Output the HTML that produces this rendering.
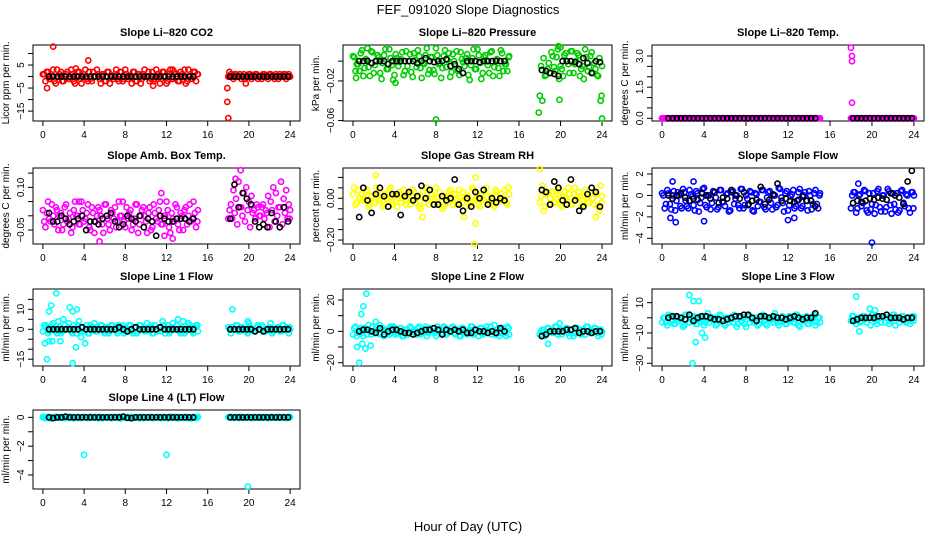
<!DOCTYPE html>
<html><head><meta charset="utf-8"><title>FEF_091020 Slope Diagnostics</title>
<style>
html,body{margin:0;padding:0;background:#fff;}
svg{display:block;font-family:"Liberation Sans",Arial,sans-serif;}
</style></head>
<body>
<svg id="chart" width="936" height="540" viewBox="0 0 936 540" xmlns="http://www.w3.org/2000/svg">
<rect x="0" y="0" width="936" height="540" fill="#fff"/>
<text x="468" y="14" text-anchor="middle" font-size="13">FEF_091020  Slope Diagnostics</text>
<text x="468" y="531" text-anchor="middle" font-size="13">Hour of Day (UTC)</text>
</svg>
<script>
// shared sample times (hours)
const tC1=[0,0.25,0.5,0.75,1,1.25,1.5,1.75,2,2.25,2.5,2.75,3,3.25,3.5,3.75,4,4.25,4.5,4.75,5,5.25,5.5,5.75,6,6.25,6.5,6.75,7,7.25,7.5,7.75,8,8.25,8.5,8.75,9,9.25,9.5,9.75,10,10.25,10.5,10.75,11,11.25,11.5,11.75,12,12.25,12.5,12.75,13,13.25,13.5,13.75,14,14.25,14.5,14.75,15];
const tC2=[18,18.25,18.5,18.75,19,19.25,19.5,19.75,20,20.25,20.5,20.75,21,21.25,21.5,21.75,22,22.25,22.5,22.75,23,23.25,23.5,23.75,24];
const tD1=[0.12,0.37,0.62,0.87,1.12,1.37,1.62,1.87,2.12,2.37,2.62,2.87,3.12,3.37,3.62,3.87,4.12,4.37,4.62,4.87,5.12,5.37,5.62,5.87,6.12,6.37,6.62,6.87,7.12,7.37,7.62,7.87,8.12,8.37,8.62,8.87,9.12,9.37,9.62,9.87,10.12,10.37,10.62,10.87,11.12,11.37,11.62,11.87,12.12,12.37,12.62,12.87,13.12,13.37,13.62,13.87,14.12,14.37,14.62,14.87,15.05];
const tD2=[18.12,18.37,18.62,18.87,19.12,19.37,19.62,19.87,20.12,20.37,20.62,20.87,21.12,21.37,21.62,21.87,22.12,22.37,22.62,22.87,23.12,23.37,23.62,23.87,23.95];
const tB1=[0.6,1,1.4,1.8,2.2,2.6,3,3.4,3.8,4.2,4.6,5,5.4,5.8,6.2,6.6,7,7.4,7.8,8.2,8.6,9,9.4,9.8,10.2,10.6,11,11.4,11.8,12.2,12.6,13,13.4,13.8,14.2,14.6];
const tB2=[18.2,18.6,19,19.4,19.8,20.2,20.6,21,21.4,21.8,22.2,22.6,23,23.4,23.8];
const xTicks=[0,4,8,12,16,20,24];
const xTickLabels=["0","4","8","12","16","20","24"];

// CO2
const co2V1=[1,-2,2,-1,3,-3,0,2,-2,1,-1,3,-2,0,2,-3,1,-1,2,-2,0,3,-1,1,-2,2,-3,0,1,-1,2,-2,3,-1,0,2,-2,1,-3,1,0,2,-1,-2,3,0,-1,2,-3,1,-1,2,0,-2,1,3,-2,0,-1,2,1];
const co2V2=[0,1,-1,1,0,-1,1,0,1,-1,0,1,0,-1,1,0,1,0,-1,0,1,0,1,0,0];
const co2B1=[0,0,0,0,0,0,0,0,0,0,0,0,0,0,0,0,0,0,0,0,0,0,0,0,0,0,0,0,0,0,0,0,0,0,0,0];
const co2B2=[0,0,0,0,0,0,0,0,0,0,0,0,0,0,0];
const co2OX=[1,4.4,0.4,17.9,18,17.9,18.1,19.7,3.2,10.7,12.6];
const co2OY=[13,7,-5,-11,-18,-5,2,-3,3.5,-4,3];
const co2Ticks=[-15,-10,-5,0,5,10];const co2LabV=[-15,-5,5];const co2Lab=["\u221215","\u22125","5"];

// Pressure
const prV1=[.005,-.01,-.003,.008,-.015,.002,-.006,.01,-.012,0,.004,-.018,.006,-.008,.012,-.004,-.014,.003,-.001,.009,-.01,-.005,.007,-.016,.001,.011,-.007,-.002,.006,-.013,.004,-.009,.013,-.003,-.017,.005,-.006,.008,-.011,0,.01,-.014,.002,-.005,.007,-.019,.003,-.008,.012,-.002,-.012,.006,-.004,.009,-.015,.001,-.007,.011,-.01,-.003,.004];
const prV2=[-.035,-.04,-.015,-.008,-.012,.005,-.01,.012,-.005,-.015,.008,-.003,.01,-.012,0,.006,-.008,-.018,.004,-.006,.009,-.002,-.014,.003,-.005];
const prB1=[0,0,0,-.002,0,0,0,-.003,0,0,0,0,0,0,-.002,0,.003,0,-.001,0,0,.002,-.005,-.003,-.008,-.012,0,0,0,-.001,0,0,0,0,0,0];
const prB2=[-.009,-.01,-.012,-.013,-.015,0,0,0,-.001,-.003,.003,-.002,-.012,0,-.001];
const prOX=[8,24,17.9,19.9,4.1,0.3,19.8,20,1.4];
const prOY=[-.059,-.058,-.052,-.039,-.022,-.017,.015,.014,.013];
const prTicks=[-.06,-.04,-.02,0];const prLabV=[-.06,-.02];const prLab=["\u22120.06","\u22120.02"];

// Li-820 Temp
const tpV1=[0,0,0,0,0,0,0,0,0,0,0,0,0,0,0,0,0,0,0,0,0,0,0,0,0,0,0,0,0,0,0,0,0,0,0,0,0,0,0,0,0,0,0,0,0,0,0,0,0,0,0,0,0,0,0,0,0,0,0,0,0];
const tpV2=[0,0,0,0,0,0,0,0,0,0,0,0,0,0,0,0,0,0,0,0,0,0,0,0,0];
const tpB1=[0,0,0,0,0,0,0,0,0,0,0,0,0,0,0,0,0,0,0,0,0,0,0,0,0,0,0,0,0,0,0,0,0,0,0,0];
const tpB2=[0,0,0,0,0,0,0,0,0,0,0,0,0,0,0];
const tpOX=[18,18.1,18.1,18.1];
const tpOY=[3.4,3.0,2.75,0.75];
const tpTicks=[0,.5,1,1.5,2,2.5,3];const tpLabV=[0,1.5,3];const tpLab=["0.0","1.5","3.0"];

// Amb Box Temp
const abV1=[.02,-.04,.05,-.02,0,.03,-.05,.01,-.03,.04,-.01,-.06,.02,0,-.03,.05,-.02,.01,-.04,.03,-.06,0,.02,-.03,.04,-.01,-.05,.01,.03,-.02,0,.05,-.04,-.01,.02,-.03,.04,-.06,0,.03,-.02,.01,-.05,.04,-.01,.02,-.03,0,.05,-.04,.01,-.02,.03,-.05,0,.02,-.03,.04,-.01,.01,-.02];
const abV2=[-.01,.04,.09,.06,.12,.03,.08,.1,.05,.07,.02,.04,0,.03,-.01,.01,-.04,.02,-.02,0,.03,-.03,.01,-.01,.02];
const abB1=[.01,-.02,-.02,0,-.01,-.03,-.02,-.01,0,-.05,-.02,-.02,-.03,-.01,0,.01,-.02,-.04,-.03,0,-.01,-.02,0,-.04,-.01,-.02,-.07,0,-.01,-.02,-.02,-.01,-.01,-.01,-.02,-.01];
const abB2=[-.01,.11,.03,.08,.06,.04,-.02,-.04,-.03,-.04,.01,-.02,-.04,.03,-.02];
const abOX=[5.5,11.5,12.6,11.8,19.2,18.7,3.5];
const abOY=[-.09,.08,-.08,-.07,.16,.13,.05];
const abTicks=[-.05,0,.05,.1,.15];const abLabV=[-.05,.1];const abLab=["\u22120.05","0.10"];

// Gas Stream RH
const rhV1=[.02,-.03,.04,-.01,0,.03,-.04,.01,-.02,.05,-.01,.02,-.03,0,.04,-.02,.01,-.04,.03,0,-.01,.02,-.03,.04,-.02,.01,-.05,.03,0,-.01,.02,-.03,.05,-.02,.01,-.04,0,.03,-.01,.02,-.03,.04,-.02,0,.01,-.03,.05,-.01,.02,-.04,0,.03,-.02,.01,-.03,.04,-.01,.02,0,-.02,.05];
const rhV2=[-.02,.06,-.04,.02,0,.03,-.02,.04,-.03,.01,0,.05,-.03,.02,-.01,.03,-.04,.01,0,-.02,.03,-.03,.02,-.06,.01];
const rhB1=[-.09,.05,-.01,-.07,.02,.05,.01,-.04,.02,.02,-.08,.01,.03,-.01,.01,.06,0,.04,-.03,-.03,.01,-.01,0,.09,-.03,-.06,0,-.04,.03,0,.04,-.03,0,-.02,0,-.01];
const rhB2=[.04,.03,-.03,.08,.05,-.01,-.03,.09,-.01,-.06,-.04,.02,.05,.03,-.04];
const rhOX=[11.7,2.2,18,10.7,23.4,6.7,11.8,11.8];
const rhOY=[-.22,.11,.14,-.09,-.09,-.09,.1,-.12];
const rhTicks=[-.2,-.15,-.1,-.05,0,.05,.1];const rhLabV=[-.2,0];const rhLab=["\u22120.20","0.00"];

// Sample Flow
const sfV1=[.2,-1.2,.5,-.8,0,-1.4,.3,-1,.6,-.5,-1.2,.1,-.9,.4,-1.5,-.2,.7,-1.1,0,-.7,.3,-1.3,.5,-.6,-1,.2,-1.4,.4,-.3,-.9,.6,-1.2,0,-.8,.3,-1.5,.1,-.6,.5,-1.1,-.2,.4,-1.3,0,-.9,.6,-.7,.2,-1.4,-.1,.5,-1,.3,-1.2,0,-.5,.4,-1.3,.2,-.8,0];
const sfV2=[-1.2,.3,-1.6,0,-1,.5,-1.4,.2,-.8,-1.7,.4,-1.1,0,-1.5,.6,-.9,.2,-1.3,-1.6,.4,-.7,.1,-1.2,.3,0];
const sfB1=[0,-.3,0,.2,-.2,-.5,-.3,-.4,.2,0,-.3,.3,-.7,-.2,-.3,.5,0,-.3,.3,-.9,-.5,-.4,.8,-.8,-.4,.1,1.1,-.5,-.3,-.5,-.6,-.4,-.1,-.5,-.5,-1];
const sfB2=[-.7,-.5,-.6,-.5,-.3,-.4,-.2,-.3,-.4,.2,0,-.2,-.8,1.3,2.3];
const sfOX=[1.3,4,12,20,0.8,1,3,18.7,12.6];
const sfOY=[-2.5,-2.4,-2.3,-4.4,-2.1,1.3,1.3,1.1,-2.1];
const sfTicks=[-4,-3,-2,-1,0,1,2];const sfLabV=[-4,-2,0,2];const sfLab=["\u22124","\u22122","0","2"];

// Line 1 Flow
const l1V1=[-1,2,-2,1,3,-1,4,-2,5,0,3,-1,2,-2,4,1,-1,2,-2,1,3,-1,0,2,-2,1,-1,2,0,-2,1,2,-1,0,2,-2,1,-1,2,0,-1,1,2,-2,0,1,-1,2,0,-2,1,0,2,-1,1,-2,0,2,-1,1,2];
const l1V2=[1,-2,0,2,-1,1,0,-1,3,0,-1,1,0,2,-1,0,1,-2,0,1,-1,2,0,1,0];
const l1B1=[0,0,0,0,0,0,0,0,1,0,0,0,0,0,0,0,0,1,0,-1,0,1,0,0,0,0,0,1,0,0,0,0,0,0,0,0];
const l1B2=[0,0,0,0,0,0,-1,0,-1,0,0,0,0,0,0];
const l1OX=[0.2,0.4,0.6,0.8,0.6,0.9,1.3,1.7,2.6,2.9,3.3,2.9,3.2,3.7,4.1,18.4,19.9];
const l1OY=[-7,-15,9,12,-6,-6,18,-6,11,9,10,-17,-9,-4,-7,10,4];
const l1Ticks=[-15,-10,-5,0,5,10,15];const l1LabV=[-15,0,10];const l1Lab=["\u221215","0","10"];

// Line 2 Flow
const l2V1=[-2,3,-1,2,-3,1,4,-2,0,3,-1,2,-3,1,-2,3,0,-1,2,-3,1,-2,3,0,-1,2,-2,1,3,-1,0,2,-3,1,-1,3,-2,0,2,-1,1,-3,2,0,-2,1,3,-1,0,2,-2,1,-1,3,0,-2,2,-1,1,-3,2];
const l2V2=[-2,1,-3,2,0,-1,3,-2,1,0,2,-1,1,-3,2,0,-2,1,3,-1,0,2,-1,1,0];
const l2B1=[0,1,1,0,-1,2,-2,0,1,1,0,-1,-1,-2,-1,0,1,1,2,1,-2,1,0,1,0,1,-1,-1,1,0,0,-1,0,-1,2,0];
const l2B2=[-3,-2,0,0,0,0,1,1,2,-1,0,0,-1,0,0];
const l2OX=[0.4,0.6,0.8,0.9,1.0,1.3,1.2,1.7,18.8,19.9,2.2,3.9,2.6];
const l2OY=[-10,-20,11,-8,16,24,-11,-9,-8,5,6,3,4];
const l2Ticks=[-20,-10,0,10,20];const l2LabV=[-20,0,20];const l2Lab=["\u221220","0","20"];

// Line 3 Flow
const l3V1=[-3,0,-5,1,-2,-4,0,-1,-6,2,-3,-1,1,-4,-2,0,-5,1,-3,-1,0,-4,2,-2,-5,0,-1,-3,1,-4,-2,0,-6,2,-1,-3,0,-4,1,-2,-5,0,-1,3,-3,-2,1,-4,0,-1,-3,2,-5,0,-2,1,-4,-1,2,-3,0];
const l3V2=[-2,1,-4,0,-2,1,-3,0,2,-1,-4,0,1,-3,0,-2,2,-5,0,-1,1,-3,0,-2,1];
const l3B1=[0,1,1,0,-1,2,-2,0,1,1,0,-1,-1,-2,-1,0,1,1,2,2,0,-2,1,1,0,1,0,0,-1,0,1,0,-1,0,0,3];
const l3B2=[-2,-1,0,0,0,0,1,1,2,0,0,0,-1,0,0];
const l3OX=[2.6,3.0,3.5,2.9,3.2,3.8,4.1,18.5,18.8,19.8,20.3];
const l3OY=[15,11,11,-30,-16,-10,-13,14,-9,6,5];
const l3Ticks=[-30,-20,-10,0,10];const l3LabV=[-30,-10,10];const l3Lab=["\u221230","\u221210","10"];

// Line 4 (LT) Flow
const l4V1=[.02,-.05,.03,-.08,0,.04,-.03,.01,-.06,.03,-.02,.04,-.07,0,.02,-.04,.03,-.01,-.05,.02,0,-.03,.04,-.06,.01,-.02,.03,-.04,0,.02,-.07,.03,-.01,.04,-.05,0,.02,-.03,.01,-.06,.03,-.02,.04,-.04,0,.02,-.05,.03,-.01,-.03,.04,0,-.06,.02,-.02,.03,-.04,.01,0,-.03,.02];
const l4V2=[0,.03,-.04,.02,-.02,.04,-.03,0,.02,-.05,.03,-.01,.02,-.04,.01,0,-.03,.03,-.02,.01,-.04,.02,0,-.01,.03];
const l4B1=[0,-.05,0,0,.05,0,0,0,0,0,0,0,0,0,0,0,0,0,.05,-.03,-.05,0,0,0,0,0,0,0,0,0,0,0,0,0,0,0];
const l4B2=[0,0,0,0,0,0,0,0,0,0,0,0,0,0,0];
const l4OX=[4,12,19.9];
const l4OY=[-2.6,-2.6,-4.8];
const l4Ticks=[-4,-3,-2,-1,0];const l4LabV=[-4,-2,0];const l4Lab=["\u22124","\u22122","0"];

const NS="http://www.w3.org/2000/svg";
const svg=document.getElementById('chart');
const cols=[[33,300],[343,612],[652,924]];
const rows=[[45,121],[168,244],[289,366],[410,489]];
const panels=[
 {id:'co2',title:'Slope Li\u2013820 CO2',yl:'Licor ppm per min.',c:'#ff0000',lim:[-19.3,13.7],v1:co2V1,v2:co2V2,b1:co2B1,b2:co2B2,ox:co2OX,oy:co2OY,tk:co2Ticks,lv:co2LabV,lb:co2Lab},
 {id:'pressure',title:'Slope Li\u2013820 Pressure',yl:'kPa per min.',c:'#00cd00',lim:[-0.0605,0.0163],v1:prV1,v2:prV2,b1:prB1,b2:prB2,ox:prOX,oy:prOY,tk:prTicks,lv:prLabV,lb:prLab},
 {id:'temp',title:'Slope Li\u2013820 Temp.',yl:'degrees C per min.',c:'#ff00ff',lim:[-0.13,3.53],v1:tpV1,v2:tpV2,b1:tpB1,b2:tpB2,ox:tpOX,oy:tpOY,tk:tpTicks,lv:tpLabV,lb:tpLab},
 {id:'amb-box-temp',title:'Slope Amb. Box Temp.',yl:'degrees C per min.',c:'#ff00ff',lim:[-0.099,0.168],v1:abV1,v2:abV2,b1:abB1,b2:abB2,ox:abOX,oy:abOY,tk:abTicks,lv:abLabV,lb:abLab},
 {id:'gas-stream-rh',title:'Slope Gas Stream RH',yl:'percent per min.',c:'#ffff00',lim:[-0.219,0.145],v1:rhV1,v2:rhV2,b1:rhB1,b2:rhB2,ox:rhOX,oy:rhOY,tk:rhTicks,lv:rhLabV,lb:rhLab},
 {id:'sample-flow',title:'Slope Sample Flow',yl:'ml/min per min.',c:'#0000ff',lim:[-4.53,2.56],v1:sfV1,v2:sfV2,b1:sfB1,b2:sfB2,ox:sfOX,oy:sfOY,tk:sfTicks,lv:sfLabV,lb:sfLab},
 {id:'line1-flow',title:'Slope Line 1 Flow',yl:'ml/min per min.',c:'#00ffff',lim:[-18.4,20.2],v1:l1V1,v2:l1V2,b1:l1B1,b2:l1B2,ox:l1OX,oy:l1OY,tk:l1Ticks,lv:l1LabV,lb:l1Lab},
 {id:'line2-flow',title:'Slope Line 2 Flow',yl:'ml/min per min.',c:'#00ffff',lim:[-22.1,27],v1:l2V1,v2:l2V2,b1:l2B1,b2:l2B2,ox:l2OX,oy:l2OY,tk:l2Ticks,lv:l2LabV,lb:l2Lab},
 {id:'line3-flow',title:'Slope Line 3 Flow',yl:'ml/min per min.',c:'#00ffff',lim:[-31.8,19],v1:l3V1,v2:l3V2,b1:l3B1,b2:l3B2,ox:l3OX,oy:l3OY,tk:l3Ticks,lv:l3LabV,lb:l3Lab},
 {id:'line4-flow',title:'Slope Line 4 (LT) Flow',yl:'ml/min per min.',c:'#00ffff',lim:[-4.97,0.51],v1:l4V1,v2:l4V2,b1:l4B1,b2:l4B2,ox:l4OX,oy:l4OY,tk:l4Ticks,lv:l4LabV,lb:l4Lab}
];
function mk(tag,attrs,parent){const e=document.createElementNS(NS,tag);for(const k in attrs)e.setAttribute(k,attrs[k]);parent.appendChild(e);return e;}
panels.forEach((p,i)=>{
 const [x0,x1]=cols[i%3];const [y0,y1]=rows[Math.floor(i/3)];
 const g=mk('g',{},svg);
 
 
 const xs=v=>x0+(v+0.96)/25.92*(x1-x0);
 const ys=v=>y1-(v-p.lim[0])/(p.lim[1]-p.lim[0])*(y1-y0);
 const t=mk('text',{x:(x0+x1)/2,y:y0-9,'text-anchor':'middle','font-size':11,'font-weight':'bold'},g);
 t.textContent=p.title;
 
 
 const yl=mk('text',{transform:`translate(${x0-24},${(y0+y1)/2}) rotate(-90)`,'text-anchor':'middle','font-size':10},g);
 yl.textContent=p.yl;
 
 
 const xa=mk('g',{},g);
 
 
 mk('line',{x1:xs(xTicks[0]),x2:xs(xTicks[xTicks.length-1]),y1:y1,y2:y1,stroke:'#000'},xa);
 xTicks.forEach((v,k)=>{
  mk('line',{x1:xs(v),x2:xs(v),y1:y1,y2:y1+5,stroke:'#000'},xa);
  const tl=mk('text',{x:xs(v),y:y1+17,'text-anchor':'middle','font-size':10},xa);
  tl.textContent=xTickLabels[k];
  
  
 });
 const ya=mk('g',{},g);
 
 
 mk('line',{x1:x0,x2:x0,y1:ys(p.tk[0]),y2:ys(p.tk[p.tk.length-1]),stroke:'#000'},ya);
 p.tk.forEach(v=>mk('line',{x1:x0-5,x2:x0,y1:ys(v),y2:ys(v),stroke:'#000'},ya));
 p.lv.forEach((v,k)=>{
  const tl=mk('text',{transform:`translate(${x0-9},${ys(v)}) rotate(-90)`,'text-anchor':'middle','font-size':10},ya);
  tl.textContent=p.lb[k];
  
  
 });
 const bx=mk('rect',{x:x0,y:y0,width:x1-x0,height:y1-y0,fill:'none',stroke:'#000'},g);
 
 
 const pts=mk('g',{fill:'none','stroke-width':1.6},g);
 
 
 const dot=(x,y,c)=>{const e=mk('circle',{cx:xs(x),cy:ys(y),r:2.6,stroke:c},pts);
  
  };
 const n1=p.v1.length,n2=p.v2.length;
 tC1.forEach((x,k)=>{if(k<n1)dot(x,p.v1[k],p.c);});
 tC2.forEach((x,k)=>{if(k<n2)dot(x,p.v2[k],p.c);});
 tD1.forEach((x,k)=>{if(k<n1)dot(x,p.v1[n1-1-k],p.c);});
 tD2.forEach((x,k)=>{if(k<n2)dot(x,p.v2[n2-1-k],p.c);});
 p.ox.forEach((x,k)=>dot(x,p.oy[k],p.c));
 tB1.forEach((x,k)=>{if(k<p.b1.length)dot(x,p.b1[k],'#000');});
 tB2.forEach((x,k)=>{if(k<p.b2.length)dot(x,p.b2[k],'#000');});
});
</script>
</body></html>
